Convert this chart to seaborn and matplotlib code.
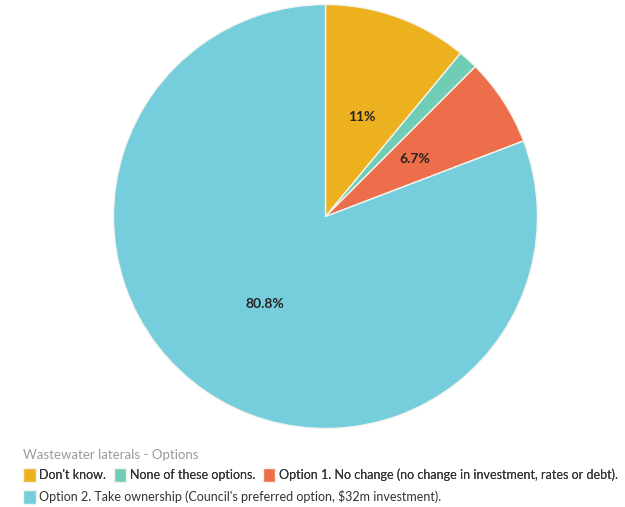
import matplotlib
matplotlib.use("Agg")
import matplotlib.pyplot as plt
import numpy as np
import seaborn as sns

# Survey responses: wastewater laterals options
categories = [
    "Don't know.",
    "None of these options.",
    "Option 1. No change (no change in investment, rates or debt).",
    "Option 2. Take ownership (Council's preferred option, $32m investment).",
]
shares = [11.0, 1.5, 6.7, 80.8]
pct_labels = ["11%", "", "6.7%", "80.8%"]
colors = ["#EDB11F", "#6FCDB6", "#EC6E4A", "#76CEDD"]
legend_title = "Wastewater laterals - Options"

sns.set_theme(style="white")
plt.rcParams["font.family"] = ["Lato", "DejaVu Sans"]
palette = sns.color_palette(colors)

fig = plt.figure(figsize=(6.25, 5.07), dpi=100)
ax = fig.add_axes([0.1816, 0.1548, 0.6784, 0.8363])

wedges, _ = ax.pie(
    shares,
    colors=palette,
    startangle=90,
    counterclock=False,
    radius=1.0,
    wedgeprops=dict(edgecolor="#F4F4EE", linewidth=1.0),
)
ax.set_xlim(-1.0, 1.0)
ax.set_ylim(-1.0, 1.0)
ax.set_aspect("equal")
ax.axis("off")

# Percentage labels at half radius along each wedge's mid-angle
for w, lab in zip(wedges, pct_labels):
    if not lab:
        continue
    mid = np.deg2rad((w.theta1 + w.theta2) / 2)
    ax.text(0.5 * np.cos(mid), 0.5 * np.sin(mid), lab, ha="center", va="center",
            fontsize=10, fontweight="bold", color="#262222")

# Legend: title line, then a flowing row of three items and a second row
fig.text(23 / 625, 1 - 455 / 507, legend_title, ha="left", va="center",
         fontsize=9.5, color="#9A9A9A")

common = dict(frameon=False, handlelength=1.0, handleheight=1.25,
              handletextpad=0.3, columnspacing=0.6, borderpad=0,
              borderaxespad=0, fontsize=9.0, labelcolor="#333333")
leg1 = fig.legend(wedges[:3], categories[:3], ncol=3, loc="center left",
                  bbox_to_anchor=(23 / 625, 1 - 475 / 507), **common)
fig.add_artist(leg1)
fig.legend(wedges[3:], categories[3:], ncol=1, loc="center left",
           bbox_to_anchor=(23 / 625, 1 - 497 / 507), **common)

fig.savefig("out.png", dpi=100, facecolor="white")
